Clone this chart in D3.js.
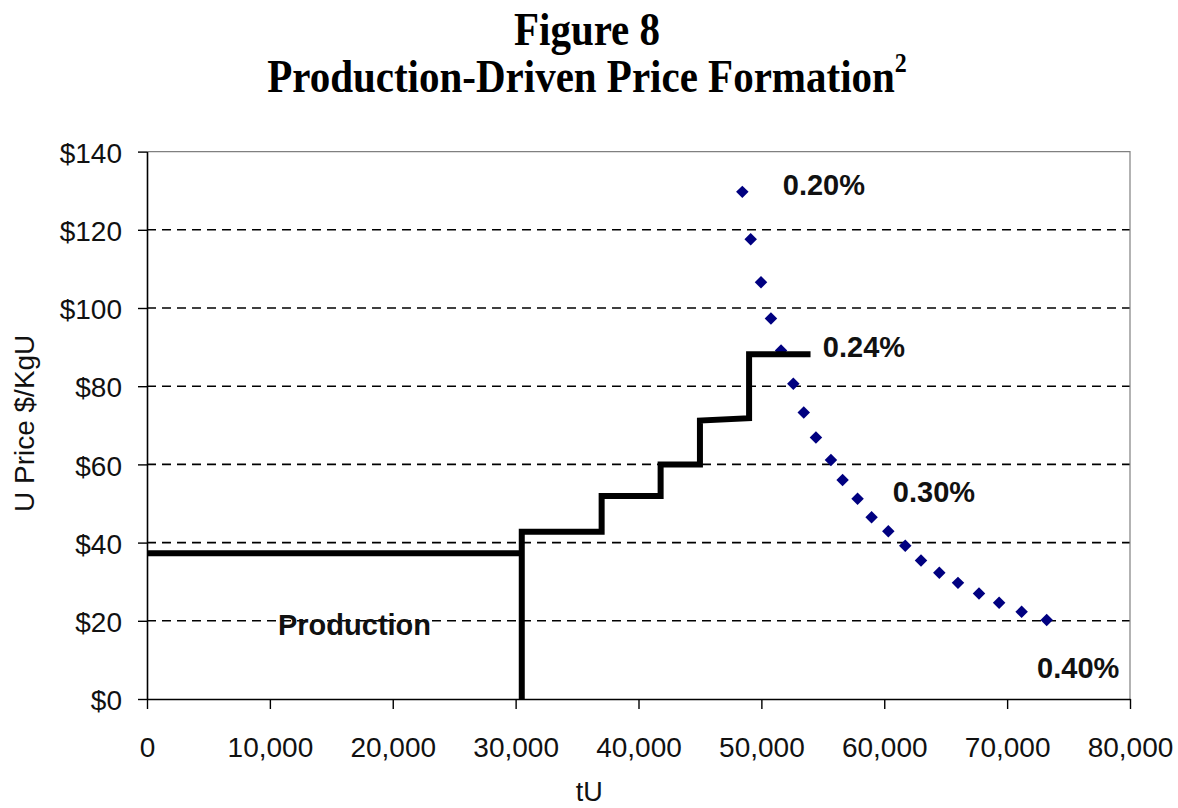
<!DOCTYPE html>
<html>
<head>
<meta charset="utf-8">
<script src="https://cdn.jsdelivr.net/npm/d3@7"></script>
<style>
  html, body { margin: 0; padding: 0; background: #fff; }
  svg { display: block; }
</style>
</head>
<body>
<svg id="chart" width="1178" height="808"></svg>
<script>
// ---- Data ----
const titleLines = ["Figure 8", "Production-Driven Price Formation"];
const xTicks = [0, 10000, 20000, 30000, 40000, 50000, 60000, 70000, 80000];
const yTicks = [0, 20, 40, 60, 80, 100, 120, 140];

// production step curve (tU, $/kgU)
const prodX = [0, 30500, 30500, 30500, 37000, 37000, 41800, 41800, 45000, 45000, 49000, 49000, 54000];
const prodY = [37.3, 37.3, 0, 42.8, 42.8, 51.9, 51.9, 60.0, 60.0, 71.2, 71.8, 88.2, 88.2];

// demand curve (diamond markers)
const demX = [48450, 49130, 49970, 50780, 51600, 52600, 53450, 54440, 55660, 56610, 57830, 58970, 60330, 61710, 62990, 64480, 66000, 67710, 69350, 71180, 73220];
const demY = [129.7, 117.6, 106.6, 97.3, 89.1, 80.6, 73.3, 66.9, 61.1, 56.0, 51.2, 46.5, 42.9, 39.2, 35.4, 32.3, 29.7, 27.0, 24.6, 22.3, 20.2];

// annotation labels (left edge / baseline in data units)
const labelText = ["0.20%", "0.24%", "0.30%", "0.40%", "Production"];
const labelX = [51740, 55000, 60700, 72440, 10660];
const labelY = [128.9, 87.5, 50.4, 5.4, 16.4];

// ---- Layout ----
const svg = d3.select("#chart");
const pLeft = 147, pRight = 1130, pTop = 151.6, pBottom = 699;
const x = d3.scaleLinear().domain([0, 80000]).range([pLeft, pRight]);
const y = d3.scaleLinear().domain([0, 140]).range([pBottom, pTop]);
const sans = "'Liberation Sans', Arial, sans-serif";
const serif = "'Liberation Serif', 'Times New Roman', serif";

// Title (slightly tall glyphs, as in the reference)
const t = svg.append("g").attr("font-family", serif).attr("font-weight", "bold")
  .attr("font-size", 41).attr("fill", "#000").attr("text-anchor", "middle");
t.append("text").attr("transform", "translate(587,45) scale(1,1.13)").text(titleLines[0]);
const t2 = t.append("text").attr("transform", "translate(587,92) scale(1,1.13)");
t2.append("tspan").text(titleLines[1]);
t2.append("tspan").attr("font-size", 24).attr("dy", -18).text("2");

// Gridlines
svg.append("g").selectAll("line").data(yTicks.filter(d => d > 0 && d < 140)).join("line")
  .attr("x1", pLeft).attr("x2", pRight)
  .attr("y1", d => y(d)).attr("y2", d => y(d))
  .attr("stroke", "#000").attr("stroke-width", 1.6).attr("stroke-dasharray", "9,6");

// Plot frame top/right
svg.append("path")
  .attr("d", `M${pLeft},${pTop}H${pRight}V${pBottom}`)
  .attr("fill", "none").attr("stroke", "#808080").attr("stroke-width", 1.2);

// Axes
const yAxis = d3.axisLeft(y).tickValues(yTicks).tickSize(9).tickSizeOuter(0)
  .tickFormat(d => "$" + d);
const gy = svg.append("g").attr("transform", `translate(${pLeft},0)`).call(yAxis);
gy.select(".domain").attr("stroke", "#000").attr("stroke-width", 1.6);
gy.selectAll(".tick line").attr("stroke", "#000").attr("stroke-width", 1.4);
gy.selectAll(".tick text").attr("font-family", sans).attr("font-size", 28)
  .attr("fill", "#111").attr("x", -25).attr("dy", "0.38em");

const xAxis = d3.axisBottom(x).tickValues(xTicks).tickSize(10).tickSizeOuter(0)
  .tickFormat(d3.format(","));
const gx = svg.append("g").attr("transform", `translate(0,${pBottom})`).call(xAxis);
gx.select(".domain").attr("stroke", "#000").attr("stroke-width", 1.6);
gx.selectAll(".tick line").attr("stroke", "#000").attr("stroke-width", 1.4);
gx.selectAll(".tick text").attr("font-family", sans).attr("font-size", 28)
  .attr("fill", "#111").attr("y", 58).attr("dy", 0);

// Axis titles
svg.append("text").attr("x", x(36000)).attr("y", 801)
  .attr("text-anchor", "middle").attr("font-family", sans).attr("font-size", 27)
  .attr("fill", "#111").text("tU");
svg.append("text").attr("transform", `translate(34,${y(70.5)}) rotate(-90)`)
  .attr("text-anchor", "middle").attr("font-family", sans).attr("font-size", 28)
  .attr("fill", "#111").text("U Price $/KgU");

// Demand diamonds
const demand = demX.map((d, i) => [d, demY[i]]);
svg.append("g").selectAll("path").data(demand).join("path")
  .attr("d", d3.symbol(d3.symbolSquare, 78)())
  .attr("transform", d => `translate(${x(d[0])},${y(d[1])}) rotate(45)`)
  .attr("fill", "#000080");

// Production step line
const prod = prodX.map((d, i) => [d, prodY[i]]);
svg.append("path").datum(prod)
  .attr("d", d3.line().x(d => x(d[0])).y(d => y(d[1])))
  .attr("fill", "none").attr("stroke", "#000").attr("stroke-width", 6)
  .attr("stroke-linejoin", "miter").attr("stroke-linecap", "butt");

// Labels
svg.append("g").selectAll("text").data(labelText).join("text")
  .attr("x", (d, i) => x(labelX[i])).attr("y", (d, i) => y(labelY[i]))
  .attr("font-family", sans).attr("font-weight", "bold").attr("font-size", 29)
  .attr("fill", "#111").text(d => d);
</script>
</body>
</html>
